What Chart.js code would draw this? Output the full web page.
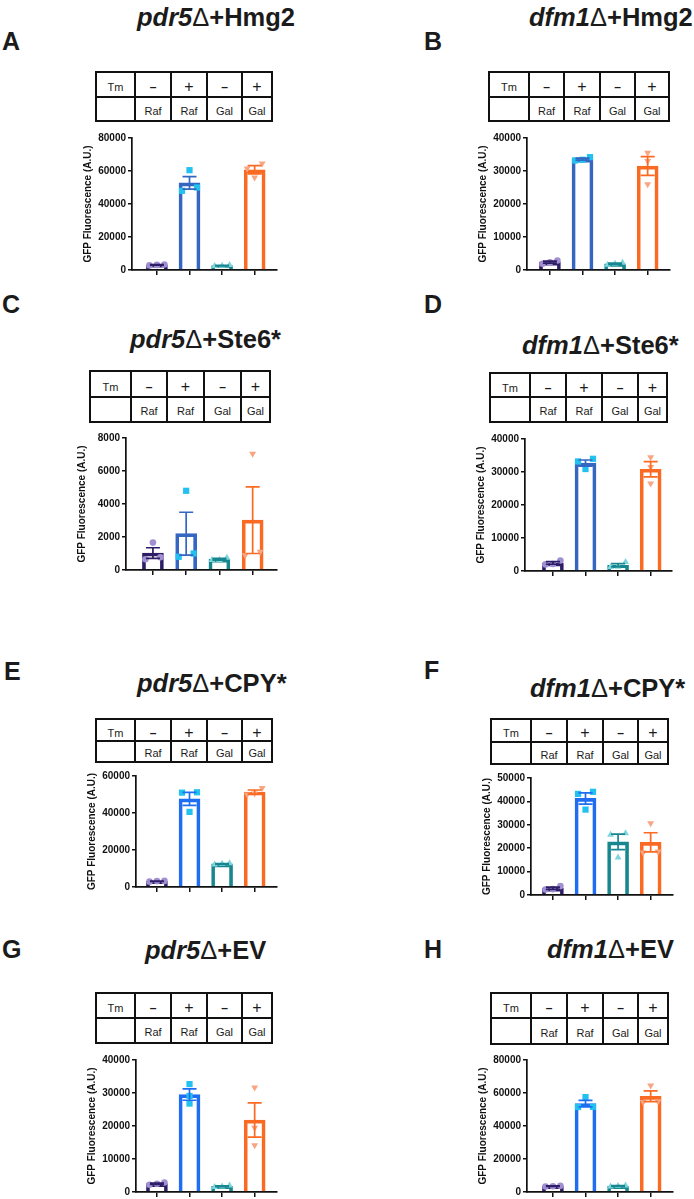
<!DOCTYPE html>
<html><head><meta charset="utf-8">
<script src="https://cdn.jsdelivr.net/npm/chart.js@4.4.1/dist/chart.umd.min.js"></script>
<style>
body{margin:0;background:#fff;width:694px;height:1199px;position:relative;overflow:hidden;font-family:"Liberation Sans",Arial,Helvetica,sans-serif;color:#1b1b1b}
.letter{position:absolute;font-weight:bold;font-size:25px;line-height:1;white-space:nowrap}
.title{position:absolute;font-weight:bold;font-size:25.5px;line-height:1;white-space:nowrap}
.title .d{font-weight:normal}
.cell{position:absolute;box-sizing:border-box;border:2px solid #111;display:flex;justify-content:center;font-size:11px;color:#1b1b1b}
.plus{font-size:16px}
.minus{font-size:12px;font-weight:bold}
canvas{position:absolute}
</style></head><body>
<script>
// ---------- DATA ----------
const panelIds = ['A','B','C','D','E','F','G','H'];
const strains = ['pdr5','dfm1','pdr5','dfm1','pdr5','dfm1','pdr5','dfm1'];
const reporters = ['Hmg2','Hmg2','Ste6*','Ste6*','CPY*','CPY*','EV','EV'];
const conditions = ['Tm – Raf','Tm + Raf','Tm – Gal','Tm + Gal'];
const tmRow = ['Tm','–','+','–','+'];
const sugarRow = ['','Raf','Raf','Gal','Gal'];
const yTitle = 'GFP Fluorescence (A.U.)';
const yMax = [80000, 40000, 8000, 40000, 60000, 50000, 40000, 80000];
const yStep = [20000, 10000, 2000, 10000, 20000, 10000, 10000, 20000];

// replicate points (per condition), bar means, SEM
const A_pts = [[2800,3300,3100],[60500,48000,50000],[2400,3000,2600],[64500,61500,56000]];
const A_mean = [3070, 52800, 2670, 60700];
const A_sem = [150, 3800, 180, 2500];

const B_pts = [[2900,1900,2300],[34200,33200,33400],[2200,1600,1900],[35500,33000,26000]];
const B_mean = [2370, 33600, 1900, 31500];
const B_sem = [290, 305, 175, 2840];

const C_pts = [[1660,650,770],[4800,800,1000],[750,600,600],[7050,900,1100]];
const C_mean = [1030, 2200, 650, 3020];
const C_sem = [320, 1300, 50, 2020];

const D_pts = [[3200,2100,2000],[34000,30900,33200],[2700,1300,1200],[34500,31500,26500]];
const D_mean = [2430, 32700, 1730, 30830];
const D_sem = [385, 930, 485, 2330];

const E_pts = [[3300,2900,3200],[51200,51000,40600],[12200,12800,12600],[53500,50000,50500]];
const E_mean = [3130, 47600, 12530, 51330];
const E_sem = [120, 3500, 176, 1090];

const F_pts = [[3800,2500,2300],[44100,43200,36500],[26400,25700,16000],[30700,18200,18600]];
const F_mean = [2870, 41270, 22700, 22500];
const F_sem = [470, 2400, 3350, 4100];

const G_pts = [[2900,2200,2500],[32700,29100,26800],[2000,1500,1700],[31700,19500,14200]];
const G_mean = [2530, 29530, 1730, 21800];
const G_sem = [200, 1720, 145, 5180];

const H_pts = [[3800,3300,3500],[57500,51600,51500],[3900,3300,3700],[64500,55000,54500]];
const H_mean = [3530, 53530, 3630, 58000];
const H_sem = [145, 1980, 176, 3250];

const allPts = [A_pts,B_pts,C_pts,D_pts,E_pts,F_pts,G_pts,H_pts];
const allMean = [A_mean,B_mean,C_mean,D_mean,E_mean,F_mean,G_mean,H_mean];
const allSem = [A_sem,B_sem,C_sem,D_sem,E_sem,F_sem,G_sem,H_sem];

// ---------- LAYOUT (pixels) ----------
const geom = [
 {L:132,t0:157,t3:255,R:277,top:138,zero:270, tx:[96,135,171,207,242,272], ty:[72,97,121], letter:[3,32], title:[137,8]},
 {L:527,t0:550,t3:648,R:670,top:138,zero:270, tx:[489,529,564,600,635,669], ty:[72,97,121], letter:[425,32], title:[529,8]},
 {L:126,t0:153,t3:253,R:277,top:438,zero:570, tx:[90,131,167,204,241,270], ty:[371,397,422], letter:[3,295], title:[130,330]},
 {L:525,t0:553,t3:651,R:672,top:439,zero:571, tx:[490,530,566,602,638,667], ty:[373,397,422], letter:[425,295], title:[522,336]},
 {L:136,t0:157,t3:255,R:277,top:776,zero:887, tx:[96,135,171,207,242,272], ty:[719,741,762], letter:[5,662], title:[137,674]},
 {L:531,t0:553,t3:651,R:673,top:778,zero:895, tx:[491,531,567,603,638,668], ty:[719,742,764], letter:[425,661], title:[530,679]},
 {L:136,t0:157,t3:255,R:277,top:1060,zero:1192, tx:[96,135,171,207,242,272], ty:[993,1018,1043], letter:[3,940], title:[145,941]},
 {L:527,t0:553,t3:651,R:673,top:1060,zero:1192, tx:[491,531,567,603,638,668], ty:[993,1018,1044], letter:[425,940], title:[547,940]}
];

// ---------- STYLE ----------
const FONT = '"Liberation Sans", Arial, Helvetica, sans-serif';
const barColsTop = ['#2c1d66','#3566c2','#17868f','#fb6a22'];
const barColsBottom = ['#2c1d66','#1f6ef2','#17868f','#fb6a22'];
const ptColors = ['#a18fd1','#22c1f0','#7fd5dc','#f8a583'];
const ptStyles = ['circle','rect','triangle','triangle'];
const ptRot = [0,0,0,180];
const ptRad = [3.3,4.4,4.0,4.0];

function swarmPx(vals, ymax, plotH){
  const idx = vals.map((v,i)=>i).sort((a,b)=>vals[a]-vals[b]);
  const offs = new Array(vals.length).fill(0);
  const clusters=[]; let cur=[idx[0]];
  for(let k=1;k<idx.length;k++){
    const dy=(vals[idx[k]]-vals[idx[k-1]])/ymax*plotH;
    if(dy<6) cur.push(idx[k]); else {clusters.push(cur); cur=[idx[k]];}
  }
  clusters.push(cur);
  clusters.forEach(c=>{const n=c.length; c.forEach((i,j)=>{offs[i]=(j-(n-1)/2)*(n===2?15:7.5);});});
  return offs;
}

const errPlugin = {
  id:'errbars',
  afterDatasetsDraw(chart){
    const ds = chart.data.datasets[0];
    const xs = chart.scales.x, ys = chart.scales.y, ctx = chart.ctx;
    ctx.save(); ctx.lineWidth = 1.7;
    ds.data.forEach((d,i)=>{
      const e = ds.errs[i];
      const px = xs.getPixelForValue(d.x);
      const yt = ys.getPixelForValue(d.y+e), yb = ys.getPixelForValue(d.y-e);
      ctx.strokeStyle = ds.borderColor[i];
      ctx.beginPath();
      ctx.moveTo(px,yt); ctx.lineTo(px,yb);
      ctx.moveTo(px-7,yt); ctx.lineTo(px+7,yt);
      ctx.moveTo(px-7,yb); ctx.lineTo(px+7,yb);
      ctx.stroke();
    });
    ctx.restore();
  }
};

function addDiv(cls, html, left, top){
  const d=document.createElement('div'); d.className=cls; d.innerHTML=html;
  d.style.left=left+'px'; d.style.top=top+'px'; document.body.appendChild(d); return d;
}

panelIds.forEach((id,p)=>{
  const g = geom[p];
  addDiv('letter', id, g.letter[0]-1, Math.round(g.letter[1]-3.3));
  addDiv('title', '<i>'+strains[p]+'</i><span class="d">Δ</span>+'+reporters[p], g.title[0], Math.round(g.title[1]-3.3));
  // table
  [tmRow, sugarRow].forEach((row,r)=>{
    row.forEach((txt,c)=>{
      const cell=document.createElement('div'); cell.className='cell';
      cell.style.left=(g.tx[c]-1)+'px'; cell.style.top=(g.ty[r]-1)+'px';
      cell.style.width=(g.tx[c+1]-g.tx[c]+2)+'px'; cell.style.height=(g.ty[r+1]-g.ty[r]+2)+'px';
      cell.style.alignItems='center';
      cell.style.paddingTop = (r===0?5:3)+'px';
      const span=document.createElement('span'); span.textContent=txt;
      if(r===0 && c>0) span.className = (txt==='+') ? 'plus' : 'minus';
      cell.appendChild(span); document.body.appendChild(cell);
    });
  });
  // chart
  const u = (g.t3-g.t0)/3;
  const xmin = -(g.t0-g.L)/u, xmax = 3 + (g.R-g.t3)/u;
  const plotH = g.zero-g.top;
  const cv=document.createElement('canvas');
  const W = 55 + (g.R-g.L) + 4, Hh = 8 + plotH + 12;
  cv.width=W; cv.height=Hh; cv.style.left=(g.L-55)+'px'; cv.style.top=(g.top-8)+'px';
  cv.style.width=W+'px'; cv.style.height=Hh+'px';
  document.body.appendChild(cv);
  const barCols = p<4 ? barColsTop : barColsBottom;
  const pts = allPts[p];
  const datasets = [{
    type:'bar', label:'mean',
    data: allMean[p].map((m,i)=>({x:i,y:m})),
    backgroundColor:'rgba(255,255,255,0)', borderColor:barCols, borderWidth:3,
    borderSkipped:'start', barThickness:21, errs: allSem[p], order:2
  }];
  pts.forEach((vals,i)=>{
    const offs = swarmPx(vals, yMax[p], plotH);
    datasets.push({
      type:'scatter', label:conditions[i],
      data: vals.map((v,j)=>({x:i+offs[j]/u, y:v})),
      pointStyle:ptStyles[i], pointRadius:ptRad[i], pointRotation:ptRot[i],
      backgroundColor:ptColors[i], borderColor:ptColors[i], borderWidth:0, order:1, clip:false
    });
  });
  new Chart(cv,{
    type:'bar',
    data:{datasets},
    options:{
      responsive:false, animation:false, devicePixelRatio:1,
      layout:{padding:{top:8,right:4,left:0,bottom:0}},
      plugins:{legend:{display:false}, tooltip:{enabled:false}},
      scales:{
        x:{type:'linear', min:xmin, max:xmax, offset:false,
           afterBuildTicks:s=>{s.ticks=[0,1,2,3].map(v=>({value:v}));},
           afterFit:s=>{s.height=12;},
           ticks:{display:false},
           grid:{drawOnChartArea:false, drawTicks:true, tickLength:5, color:'#111', lineWidth:1.5, offset:false},
           border:{display:true, color:'#111', width:1.7}},
        y:{type:'linear', min:0, max:yMax[p],
           afterFit:s=>{s.width=55;},
           ticks:{stepSize:yStep[p], callback:v=>String(v), color:'#111', font:{family:FONT,size:10,weight:'bold'}, padding:2},
           grid:{drawOnChartArea:false, drawTicks:true, tickLength:4, color:'#111', lineWidth:1.5},
           border:{display:true, color:'#111', width:1.7},
           title:{display:true, text:yTitle, color:'#111', font:{family:FONT,size:10,weight:'bold'}, padding:{top:5,bottom:0}}}
      }
    },
    plugins:[errPlugin]
  });
});
</script>
</body></html>
